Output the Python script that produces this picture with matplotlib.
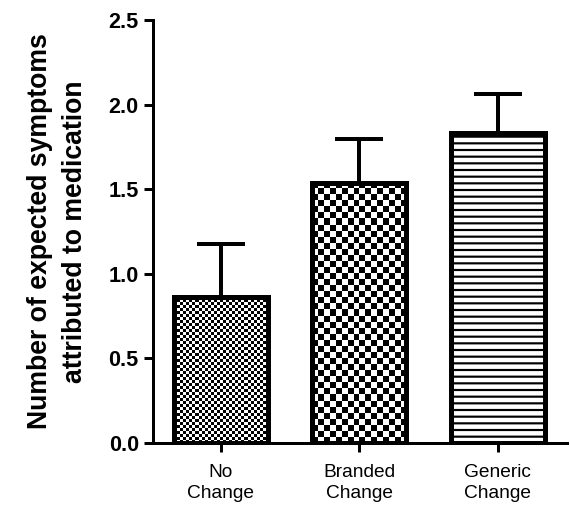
"""
plot.py
=============================
Bar chart of expected symptoms attributed to medication, with patterned fills.
"""

import numpy as np
import matplotlib
matplotlib.use('Agg')
import matplotlib.pyplot as plt

# Data
Categories = ['No\nChange', 'Branded\nChange', 'Generic\nChange']
Means      = [0.865, 1.537, 1.835]
Errors     = [0.31, 0.26, 0.225]
Y_Ticks    = [0.0, 0.5, 1.0, 1.5, 2.0, 2.5]

# Fill styles (cell size in pixels for checker, None for stripes)
Checker_Cells = [3, 6, None]

def Checker_Fill(ax, patch, cell):

	# Pixel size of the bar
	x0, y0 = patch.get_x(), patch.get_y()
	x1, y1 = x0 + patch.get_width(), y0 + patch.get_height()
	p0 = ax.transData.transform((x0, y0))
	p1 = ax.transData.transform((x1, y1))
	nx = max(1, int(round(abs(p1[0] - p0[0]) / cell)))
	ny = max(1, int(round(abs(p1[1] - p0[1]) / cell)))
	grid = (np.add.outer(np.arange(ny), np.arange(nx)) % 2).astype(float)
	im = ax.imshow(grid, cmap='gray', vmin=0, vmax=1, extent=(x0, x1, y0, y1),
		interpolation='nearest', aspect='auto', origin='lower', zorder=2.5)
	im.set_clip_path(patch)

	return

if (__name__ == '__main__'):

	plt.rcParams['font.family'] = ['Liberation Sans', 'DejaVu Sans']
	plt.rcParams['hatch.color'] = '#555555'
	plt.rcParams['hatch.linewidth'] = 1.3

	# Create figure
	fig = plt.figure(figsize=(4.75, 511 / 120), dpi=120)
	ax = fig.add_axes([153 / 570, 68 / 511, (567 - 153) / 570, (491 - 68) / 511])

	x = np.arange(len(Categories))

	# Error bars (upper only)
	ax.errorbar(x, Means, yerr=[np.zeros(len(Errors)), Errors], fmt='none',
		ecolor='black', elinewidth=2.4, capsize=14.4, capthick=2.4, zorder=1)

	# Bars
	bars = ax.bar(x, Means, width=0.68, color='white', edgecolor='black',
		linewidth=3.0, zorder=2)
	bars[2].set_hatch('---')

	ax.set_xlim(-0.49, 2.5)
	ax.set_ylim(0, 2.5)

	for bar, cell in zip(bars, Checker_Cells):
		if cell is not None:
			Checker_Fill(ax, bar, cell)

	ax.set_xlim(-0.49, 2.5)
	ax.set_ylim(0, 2.5)

	# Redraw bar edges on top of the fills
	ax.bar(x, Means, width=0.68, color='none', edgecolor='black',
		linewidth=3.0, zorder=3)

	# Axes configuration
	for side in ['top', 'right']:
		ax.spines[side].set_visible(False)
	for side in ['left', 'bottom']:
		ax.spines[side].set_linewidth(1.8)

	ax.set_yticks(Y_Ticks)
	ax.set_yticklabels(['{:.1f}'.format(v) for v in Y_Ticks], fontsize=13, fontweight='bold')
	ax.set_xticks(x)
	ax.set_xticklabels(Categories, fontsize=11.5, linespacing=1.3)
	ax.tick_params(axis='both', direction='out', width=1.8, length=5.5, color='black')
	ax.tick_params(axis='y', pad=3)
	ax.tick_params(axis='x', pad=7)

	ax.set_ylabel('Number of expected symptoms\nattributed to medication',
		fontsize=16, fontweight='bold', linespacing=1.45, labelpad=12)

	fig.savefig('out.png', dpi=120)
	plt.close()
